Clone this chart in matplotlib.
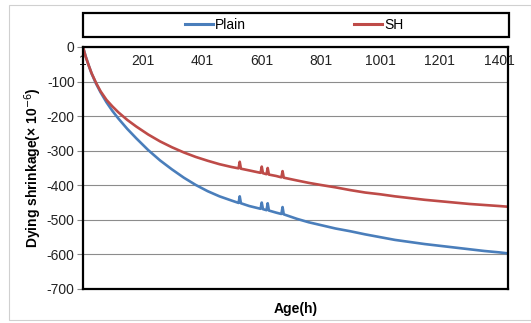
import matplotlib
matplotlib.use("Agg")
import matplotlib.pyplot as plt
from matplotlib.patches import Rectangle
from matplotlib.lines import Line2D

plt.rcParams['font.family'] = ['Liberation Sans', 'DejaVu Sans']

# age in hours and drying shrinkage (x10^-6)
hours = [1, 10, 20, 30, 45, 60, 80, 100, 120, 150, 180, 220, 260, 300, 340, 380,
         420, 460, 500, 524, 528, 532, 560, 598, 602, 606, 618, 622, 626, 650,
         668, 672, 676, 720, 760, 800, 850, 900, 950, 1000, 1050, 1100, 1150,
         1200, 1250, 1300, 1350, 1400, 1430]

plain = [0, -27, -53, -77, -106, -131, -160, -185, -207, -237, -264, -298, -328,
         -354, -378, -399, -417, -432, -444, -451, -432, -452, -460, -468, -450,
         -469, -472, -452, -473, -479, -483, -463, -484, -497, -507, -515, -525,
         -533, -542, -550, -558, -564, -570, -575, -580, -585, -590, -594, -597]

sh = [0, -28, -53, -76, -104, -128, -153, -172, -189, -211, -230, -253, -273,
      -290, -305, -318, -329, -339, -347, -351, -332, -352, -357, -364, -346,
      -365, -368, -350, -369, -373, -377, -359, -378, -386, -393, -399, -406,
      -414, -421, -426, -432, -437, -442, -446, -450, -454, -457, -460, -462]

x_ticks = [1, 201, 401, 601, 801, 1001, 1201, 1401]
y_ticks = [0, -100, -200, -300, -400, -500, -600, -700]

blue = '#4a7ebb'
red = '#be4b48'

W, H = 531, 323
fig = plt.figure(figsize=(W / 100, H / 100), dpi=100)

# outer chart frame
fig.patches.append(Rectangle((9 / W, 1 - 320 / H), (W - 9) / W, 315 / H,
                             transform=fig.transFigure, fill=False,
                             edgecolor='#d0d0d0', lw=0.8))

ax = fig.add_axes([83 / W, 1 - 289 / H, (508 - 83) / W, (289 - 47) / H])
ax.plot(hours, plain, color=blue, lw=1.9, label='Plain')
ax.plot(hours, sh, color=red, lw=1.9, label='SH')

ax.set_xlim(1, 1430)
ax.set_ylim(-700, 0)
ax.set_yticks(y_ticks)
ax.set_yticklabels([str(v) for v in y_ticks])
ax.set_xticks(x_ticks)
ax.set_xticklabels([str(v) for v in x_ticks])
ax.xaxis.tick_top()
ax.tick_params(axis='x', length=0, pad=-15, labelsize=10, labelcolor='#222222')
ax.tick_params(axis='y', length=4, color='#888888', width=0.8, labelsize=10,
               labelcolor='#222222', pad=2)
ax.grid(axis='y', color='#8c8c8c', lw=0.8)
ax.set_axisbelow(True)
for s in ax.spines.values():
    s.set_linewidth(1.6)
    s.set_color('black')

ax.set_ylabel('Dying shrinkage(\u00d7 10$^{-6}$)', fontsize=10, fontweight='bold',
              labelpad=2)
ax.set_xlabel('Age(h)', fontsize=10, fontweight='bold', labelpad=9)

# legend box above plot
fig.patches.append(Rectangle((83 / W, 1 - 37 / H), (509 - 83) / W, 24 / H,
                             transform=fig.transFigure, fill=False,
                             edgecolor='black', lw=1.6))
handles = [Line2D([], [], color=blue, lw=2.2), Line2D([], [], color=red, lw=2.2)]
fig.legend(handles, ['Plain', 'SH'], loc='center', ncol=2, frameon=False,
           bbox_to_anchor=(294 / W, 1 - 25 / H), fontsize=10, handlelength=2,
           handletextpad=0.15, columnspacing=7.8)

fig.savefig('out.png', dpi=100)
